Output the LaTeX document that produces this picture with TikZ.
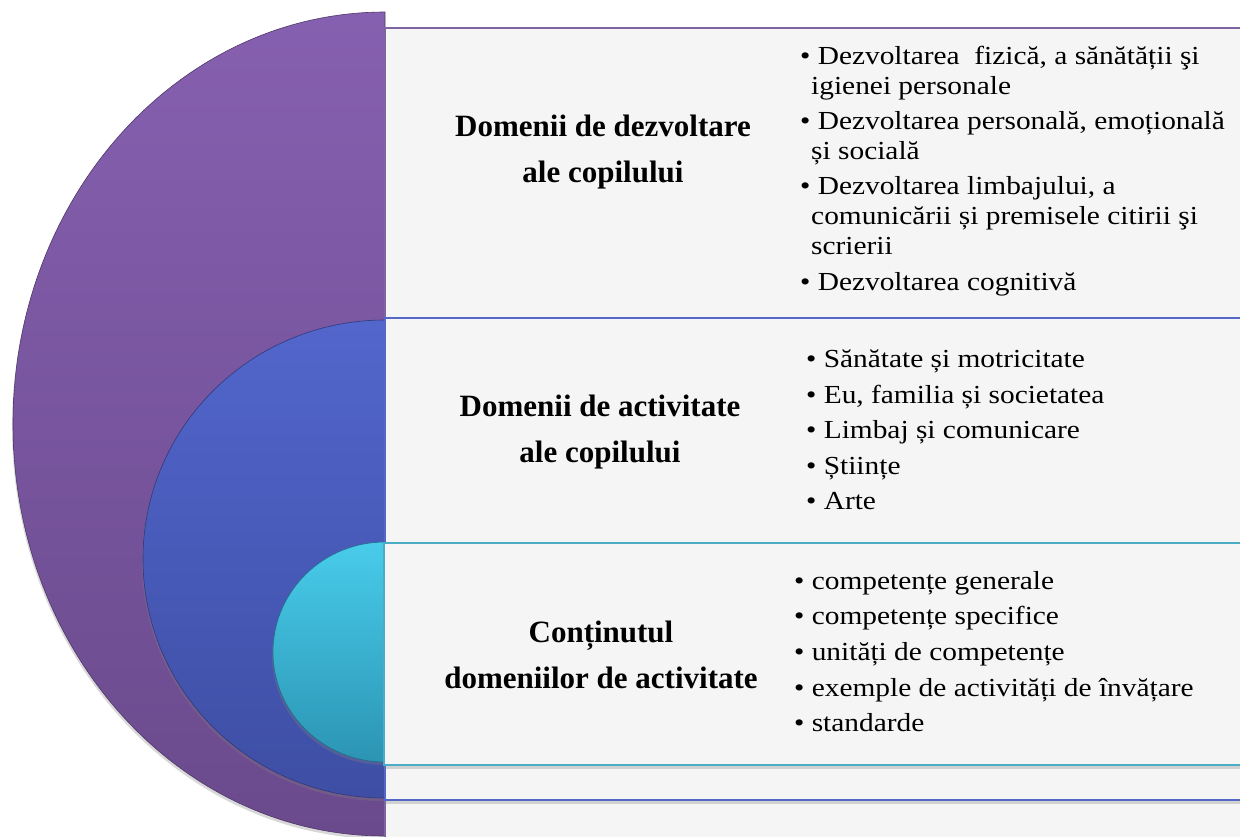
\documentclass[tikz,border=0pt]{standalone}
\usepackage{fontspec}
\setmainfont{Liberation Serif}
\newfontfamily\itemfont{Liberation Serif}[FakeStretch=1.13]
\usetikzlibrary{shadows}

\definecolor{purpleTop}{RGB}{134,96,176}
\definecolor{purpleBot}{RGB}{106,74,140}
\definecolor{purpleLine}{RGB}{128,100,162}
\definecolor{blueTop}{RGB}{82,102,204}
\definecolor{blueBot}{RGB}{62,78,164}
\definecolor{blueLine}{RGB}{84,104,200}
\definecolor{tealTop}{RGB}{72,204,234}
\definecolor{tealBot}{RGB}{44,148,180}
\definecolor{tealLine}{RGB}{75,172,198}
\definecolor{panel}{RGB}{245,245,245}

\tikzset{
  half/.style={draw=#1Bot!75!black, line width=0.6pt, top color=#1Top, bottom color=#1Bot,
    drop shadow={opacity=0.3, shadow xshift=-1pt, shadow yshift=-3pt}},
  panelbox/.style={fill=panel, draw=#1Line, line width=2pt,
    drop shadow={opacity=0.3, shadow xshift=0pt, shadow yshift=-4pt}},
  heading/.style={font=\fontsize{31}{46}\selectfont\bfseries, align=center, inner sep=0pt},
  items/.style={font=\itemfont\fontsize{26}{30}\selectfont, align=left, anchor=north west, inner sep=0pt},
}
\newcommand{\cont}{\hspace*{11pt}}

\begin{document}
\begin{tikzpicture}[x=1pt,y=-1pt]
\clip (0,0) rectangle (1240,836);
\fill[white] (0,0) rectangle (1240,836);
% outer ring: dezvoltare
\path[half=purple] (385,12) arc[start angle=270, end angle=90, x radius=372, y radius=412] -- cycle;
\path[panelbox=purple] (385,28) rectangle (1270,880);
% middle ring: activitate
\path[half=blue] (385,320) arc[start angle=270, end angle=90, x radius=242, y radius=239] -- cycle;
\path[panelbox=blue] (385,318) rectangle (1270,800);
% inner ring: continut
\path[half=teal] (385,542) arc[start angle=270, end angle=90, x radius=112, y radius=110] -- cycle;
\path[panelbox=teal] (384,543) rectangle (1270,765);

\node[heading] (devTitle) at (603,152) {Domenii de dezvoltare\\ale copilului};
\node[items] (devList) at (800,46) {\textbullet\ Dezvoltarea\ \ fizică, a sănătății şi\\
  \cont igienei personale\\[5pt]
  \textbullet\ Dezvoltarea personală, emoțională\\
  \cont și socială\\[5pt]
  \textbullet\ Dezvoltarea limbajului, a\\
  \cont comunicării și premisele citirii şi\\
  \cont scrierii\\[6pt]
  \textbullet\ Dezvoltarea cognitivă};

\node[heading] (actTitle) at (600,432) {Domenii de activitate\\ale copilului};
\node[items] (actList) at (806,350) {\textbullet\ Sănătate și motricitate\\[5.5pt]
  \textbullet\ Eu, familia și societatea\\[5.5pt]
  \textbullet\ Limbaj și comunicare\\[5.5pt]
  \textbullet\ Științe\\[5.5pt]
  \textbullet\ Arte};

\node[heading] (contTitle) at (601,655) {Conținutul\\domeniilor de activitate};
\node[items] (contList) at (794,571) {\textbullet\ competențe generale\\[5.5pt]
  \textbullet\ competențe specifice\\[5.5pt]
  \textbullet\ unități de competențe\\[6pt]
  \textbullet\ exemple de activități de învățare\\[5.5pt]
  \textbullet\ standarde};
\end{tikzpicture}
\end{document}
